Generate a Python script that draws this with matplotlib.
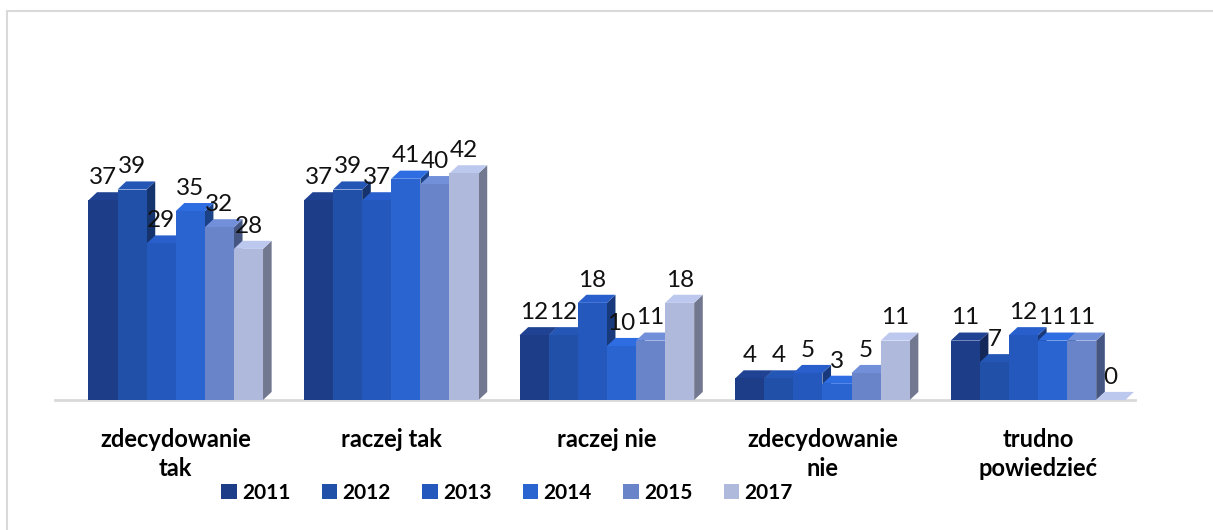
import matplotlib.pyplot as plt
import numpy as np
from matplotlib.patches import Polygon, Rectangle
from matplotlib.colors import to_rgb

plt.rcParams['font.family'] = ['Lato', 'DejaVu Sans']

#%% dane
kategorie = ['zdecydowanie\ntak', 'raczej tak', 'raczej nie',
             'zdecydowanie\nnie', 'trudno\npowiedzieć']
lata = ['2011', '2012', '2013', '2014', '2015', '2017']
w2011 = [37, 37, 12, 4, 11]
w2012 = [39, 39, 12, 4, 7]
w2013 = [29, 37, 18, 5, 12]
w2014 = [35, 41, 10, 3, 11]
w2015 = [32, 40, 11, 5, 11]
w2017 = [28, 42, 18, 11, 0]
serie = [w2011, w2012, w2013, w2014, w2015, w2017]
kolory = ['#1d3d88', '#2150a8', '#2558bd', '#2a64d0', '#6a84ca', '#afb9dc']

def ciemniej(c, f):
    r, g, b = to_rgb(c)
    return (min(r*f, 1), min(g*f, 1), min(b*f, 1))

#%% rysunek
fig = plt.figure(figsize=(12.13, 5.30), dpi=100)
ax = fig.add_axes([55/1213, 130/530, 1080/1213, 340/530])

x = np.arange(len(kategorie))
w = 0.135
dx = 0.04
dy = 1.5
for i, s in enumerate(serie):
    xs = x + (i - 2.5)*w
    bars = ax.bar(xs, s, w, color=kolory[i], zorder=3+2*i, label=lata[i])
    for b, v in zip(bars, s):
        xl = b.get_x()
        xr = xl + w
        # bok i gora (efekt 3D)
        ax.add_patch(Polygon([(xr, 0), (xr+dx, dy), (xr+dx, v+dy), (xr, v)],
                             closed=True, fc=ciemniej(kolory[i], 0.65), zorder=2+2*i))
        ax.add_patch(Polygon([(xl, v), (xr, v), (xr+dx, v+dy), (xl+dx, v+dy)],
                             closed=True, fc=ciemniej(kolory[i], 1.08), zorder=2+2*i))
        ax.annotate(str(v), (xl + w/2, v + dy), xytext=(0, 3), textcoords='offset points',
                    ha='center', va='bottom', fontsize=17.5, color='#111111', zorder=20)

ax.set_xlim(-0.56, 4.45)
ax.set_ylim(0, 63)
ax.set_yticks([])
ax.set_xticks(x)
ax.set_xticklabels(kategorie, fontsize=17, fontweight='bold', linespacing=1.35)
ax.tick_params(axis='x', length=0, pad=20)
for sp in ['top', 'left', 'right']:
    ax.spines[sp].set_visible(False)
ax.spines['bottom'].set_color('#d9d9d9')
ax.spines['bottom'].set_linewidth(2)

leg = fig.legend(*ax.get_legend_handles_labels(), loc='center', ncol=6,
                 bbox_to_anchor=(507/1213, 1 - 493/530), frameon=False,
                 prop={'weight': 'bold', 'size': 15}, handlelength=0.75,
                 handleheight=0.75, columnspacing=1.5, handletextpad=0.25)

# ramka wykresu
fig.add_artist(Rectangle((7/1213, -0.1), 1.2, 1 - 11/530 + 0.1, transform=fig.transFigure,
                         fill=False, ec='#d9d9d9', lw=1.5))

plt.savefig('out.png', dpi=100)
